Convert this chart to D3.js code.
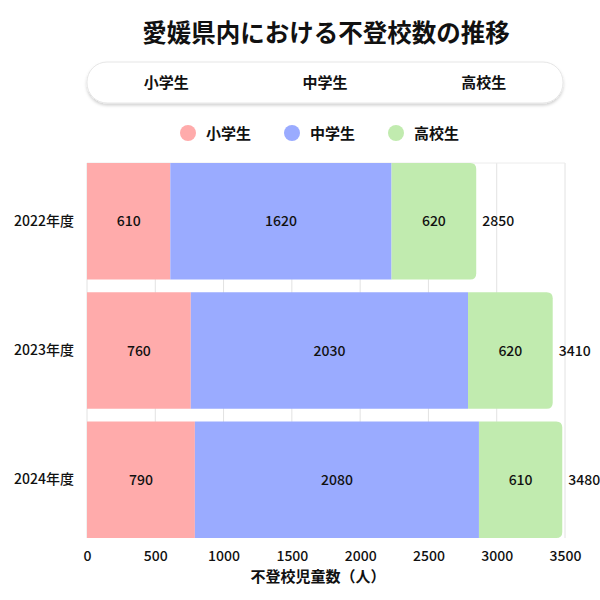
<!DOCTYPE html>
<html>
<head>
<meta charset="utf-8">
<script src="https://cdn.jsdelivr.net/npm/d3@7"></script>
<style>
  body { margin: 0; background: #fff; }
  svg { font-family: "Noto Sans CJK JP", "Noto Sans", sans-serif; }
</style>
</head>
<body>
<div id="chart"></div>
<script>
// data
const years = ["2022年度", "2023年度", "2024年度"];
const groups = ["小学生", "中学生", "高校生"];
const elementary = [610, 760, 790];
const juniorHigh = [1620, 2030, 2080];
const highSchool = [620, 620, 610];
const xTicks = [0, 500, 1000, 1500, 2000, 2500, 3000, 3500];
const colors = ["#ffabab", "#9aabff", "#c1ebaf"];

const width = 600, height = 600;
const margin = { top: 163, right: 35, bottom: 62, left: 87 };

const svg = d3.select("#chart")
  .append("svg")
  .attr("width", width)
  .attr("height", height);

// shadow for the top box
const defs = svg.append("defs");
const f = defs.append("filter").attr("id", "shadow")
  .attr("x", "-5%").attr("y", "-30%").attr("width", "110%").attr("height", "170%");
f.append("feDropShadow").attr("dx", 0).attr("dy", 2).attr("stdDeviation", 1.5)
  .attr("flood-color", "#000").attr("flood-opacity", 0.18);

// scales
const x = d3.scaleLinear()
  .domain([0, 3500])
  .range([margin.left, width - margin.right]);
const y = d3.scaleBand()
  .domain(years)
  .range([margin.top, height - margin.bottom])
  .paddingInner(0.1)
  .paddingOuter(0);

const midX = (x.range()[0] + x.range()[1]) / 2;

// title
svg.append("text")
  .attr("x", midX).attr("y", 42)
  .attr("text-anchor", "middle")
  .attr("font-size", 24.5).attr("font-weight", 700)
  .attr("fill", "#111")
  .text("愛媛県内における不登校数の推移");

// box with group names
const boxX = 87, boxW = 476;
svg.append("rect")
  .attr("x", boxX).attr("y", 62).attr("width", boxW).attr("height", 41)
  .attr("rx", 20).attr("fill", "#fff")
  .attr("stroke", "#e6e6e6")
  .attr("filter", "url(#shadow)");
svg.append("g").selectAll("text")
  .data(groups)
  .join("text")
  .attr("x", (d, i) => boxX + boxW / 6 + i * boxW / 3)
  .attr("y", 88)
  .attr("text-anchor", "middle")
  .attr("font-size", 15).attr("font-weight", 700)
  .attr("fill", "#111")
  .text(d => d);

// legend
const legend = svg.append("g").selectAll("g")
  .data(groups)
  .join("g")
  .attr("transform", (d, i) => `translate(${188 + i * 104},133)`);
legend.append("circle").attr("r", 8).attr("fill", (d, i) => colors[i]);
legend.append("text")
  .attr("x", 18).attr("y", 5.5)
  .attr("font-size", 15).attr("font-weight", 700)
  .attr("fill", "#111")
  .text(d => d);

// gridlines
svg.append("g")
  .selectAll("line")
  .data(xTicks)
  .join("line")
  .attr("x1", d => x(d)).attr("x2", d => x(d))
  .attr("y1", margin.top).attr("y2", height - margin.bottom)
  .attr("stroke", "#e2e2e2");
svg.append("line")
  .attr("x1", margin.left).attr("x2", width - margin.right)
  .attr("y1", margin.top).attr("y2", margin.top)
  .attr("stroke", "#ececec");

// stacked data
const rows = years.map((yr, i) => ({ year: yr, "小学生": elementary[i], "中学生": juniorHigh[i], "高校生": highSchool[i] }));
const stacked = d3.stack().keys(groups)(rows);

const r = 6;
function segPath(d, last) {
  const x0 = x(d[0]), x1 = x(d[1]);
  const y0 = y(d.data.year), h = y.bandwidth();
  if (!last) return `M${x0},${y0}H${x1}V${y0 + h}H${x0}Z`;
  return `M${x0},${y0}H${x1 - r}Q${x1},${y0} ${x1},${y0 + r}V${y0 + h - r}Q${x1},${y0 + h} ${x1 - r},${y0 + h}H${x0}Z`;
}

const layers = svg.append("g").selectAll("g")
  .data(stacked)
  .join("g")
  .attr("fill", (d, i) => colors[i]);

layers.selectAll("path")
  .data((d, i) => d.map(s => ({ s, last: i === groups.length - 1 })))
  .join("path")
  .attr("d", d => segPath(d.s, d.last));

layers.selectAll("text")
  .data(d => d)
  .join("text")
  .attr("x", d => (x(d[0]) + x(d[1])) / 2)
  .attr("y", d => y(d.data.year) + y.bandwidth() / 2 + 5)
  .attr("text-anchor", "middle")
  .attr("font-size", 14).attr("font-weight", 500)
  .attr("fill", "#111")
  .text(d => d[1] - d[0]);

// totals
svg.append("g").selectAll("text")
  .data(rows)
  .join("text")
  .attr("x", (d, i) => x(elementary[i] + juniorHigh[i] + highSchool[i]) + 6)
  .attr("y", d => y(d.year) + y.bandwidth() / 2 + 5)
  .attr("font-size", 14).attr("font-weight", 500)
  .attr("fill", "#111")
  .text((d, i) => elementary[i] + juniorHigh[i] + highSchool[i]);

// y axis labels
svg.append("g")
  .attr("transform", `translate(${margin.left},0)`)
  .call(d3.axisLeft(y).tickSize(0).tickPadding(13))
  .call(g => g.select(".domain").remove())
  .call(g => g.selectAll("text")
    .attr("font-size", 14).attr("font-weight", 500)
    .attr("font-family", "'Noto Sans CJK JP', sans-serif")
    .attr("fill", "#111"));

// x axis
svg.append("g")
  .attr("transform", `translate(0,${height - margin.bottom})`)
  .call(d3.axisBottom(x).tickValues(xTicks).tickFormat(d3.format("d")).tickSize(0).tickPadding(13))
  .call(g => g.select(".domain").remove())
  .call(g => g.selectAll("text")
    .attr("font-size", 14).attr("font-weight", 500)
    .attr("font-family", "'Noto Sans CJK JP', sans-serif")
    .attr("fill", "#111"));

svg.append("text")
  .attr("x", 318).attr("y", 582)
  .attr("text-anchor", "middle")
  .attr("font-size", 15).attr("font-weight", 700)
  .attr("fill", "#111")
  .text("不登校児童数（人）");
</script>
</body>
</html>
